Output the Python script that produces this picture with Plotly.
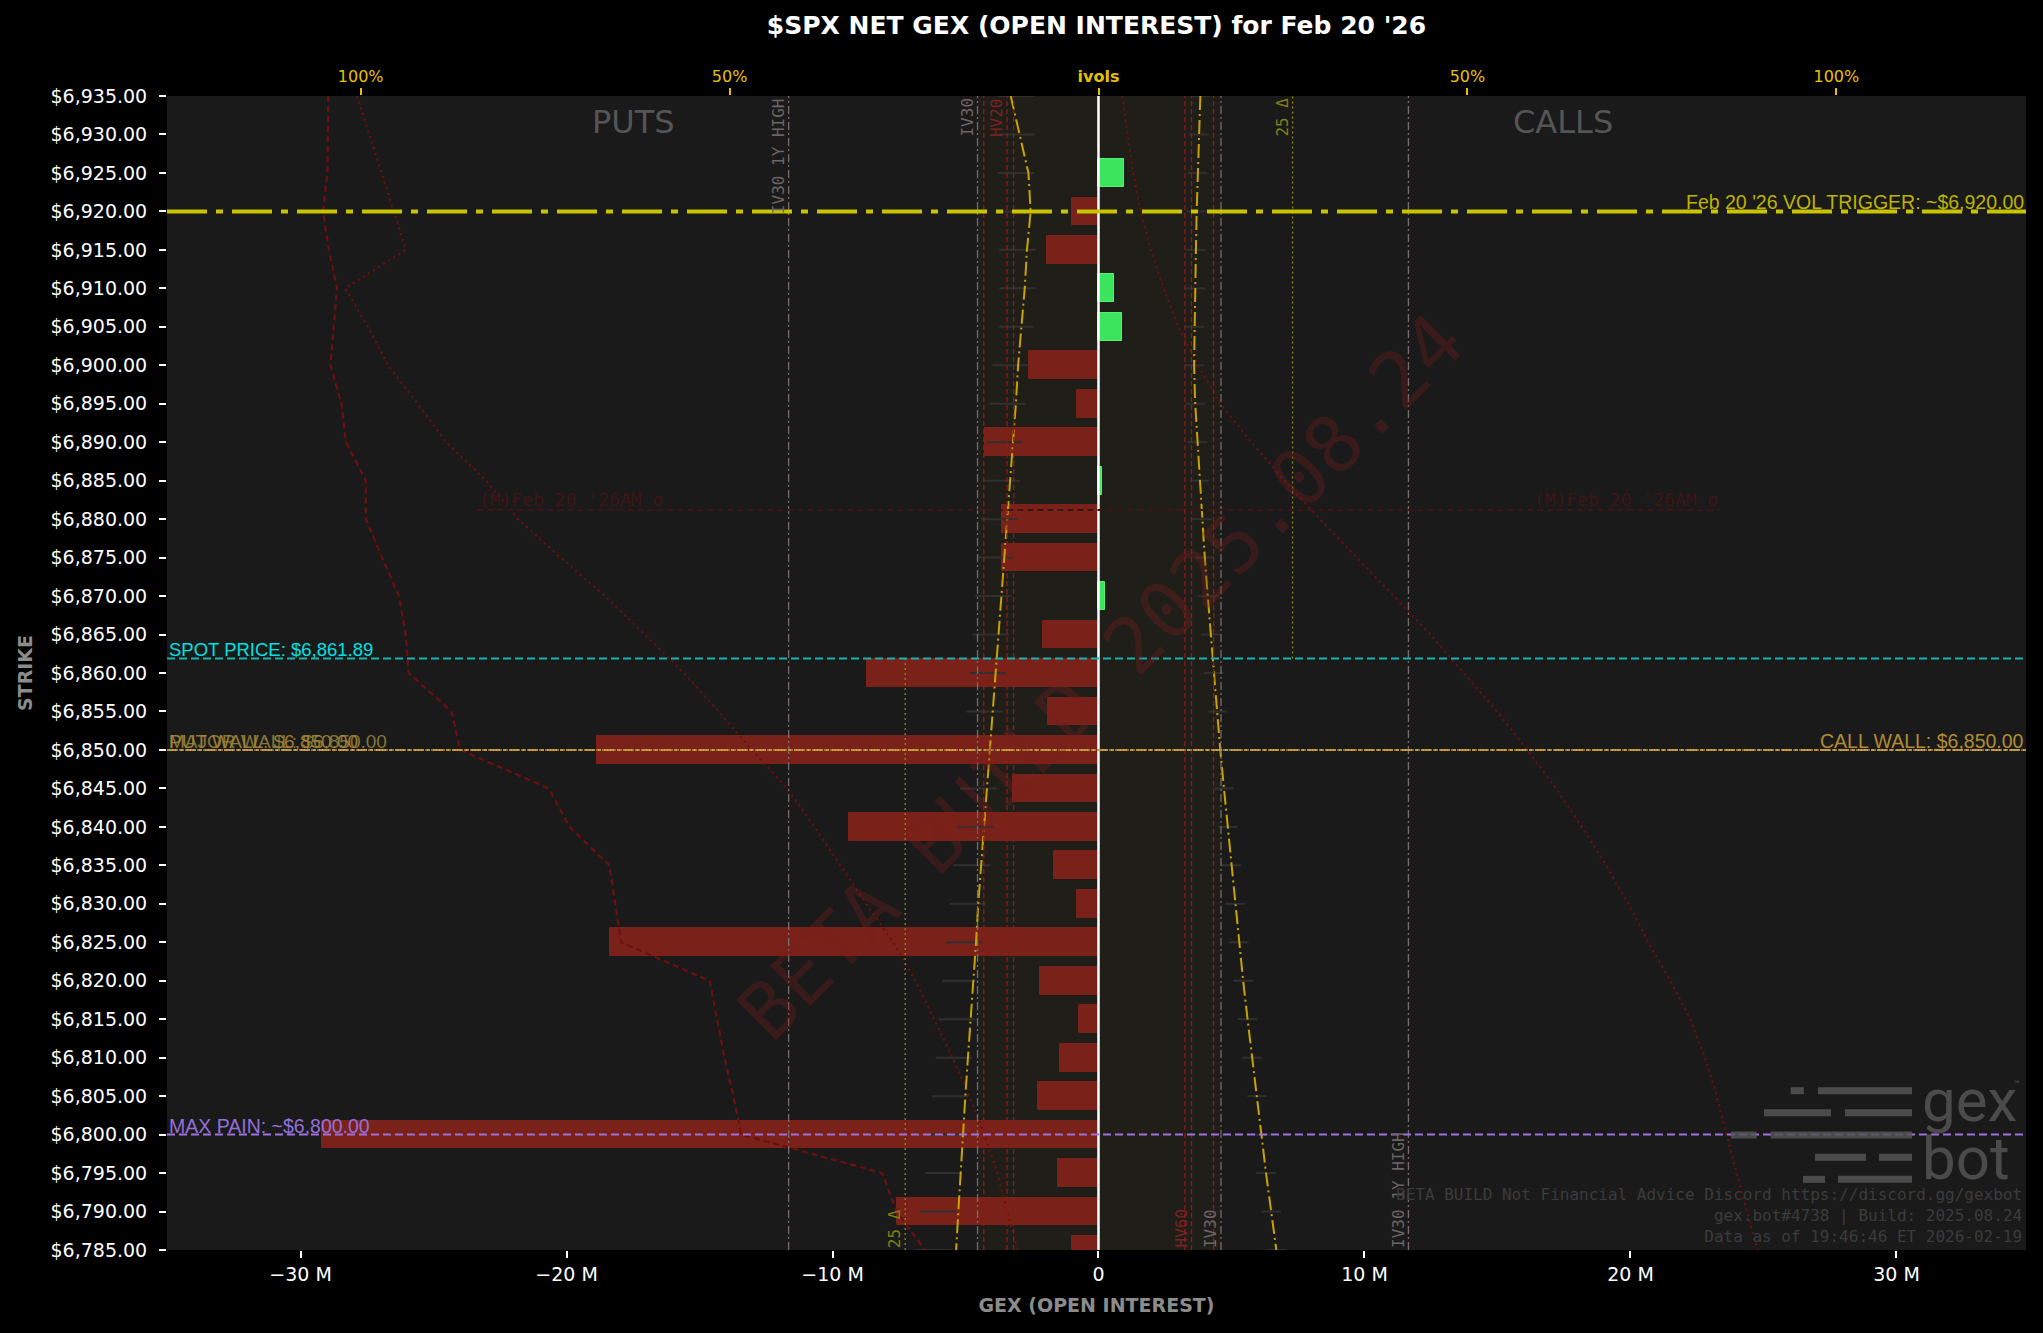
import plotly.graph_objects as go

# strikes on the y axis, top to bottom
strikes = [6935, 6930, 6925, 6920, 6915, 6910, 6905, 6900, 6895, 6890,
           6885, 6880, 6875, 6870, 6865, 6860, 6855, 6850, 6845, 6840,
           6835, 6830, 6825, 6820, 6815, 6810, 6805, 6800, 6795, 6790, 6785]

# net gex per strike, millions
net_gex = [0, 0, 0.97, -1.0, -1.94, 0.58, 0.88, -2.6, -0.82, -4.27,
           0.12, -3.64, -3.64, 0.24, -2.09, -8.7, -1.88, -18.85, -3.22, -9.39,
           -1.67, -0.82, -18.36, -2.2, -0.73, -1.46, -2.28, -29.2, -1.52, -7.57, -1.0]

# ivol smile in %, put side is drawn to the left, call side to the right
put_iv = [11.9, 10.7, 9.5, 9.2, 9.7, 10.0, 10.5, 10.9, 11.2, 11.6,
          12.0, 12.4, 12.8, 13.2, 13.6, 13.95, 14.35, 14.7, 15.1, 15.5,
          15.9, 16.3, 16.6, 17.0, 17.35, 17.7, 18.05, 18.4, 18.7, 19.0, 19.3]
call_iv = [13.8, 13.6, 13.4, 13.3, 13.2, 13.1, 13.0, 12.95, 13.1, 13.4,
           13.7, 14.0, 14.4, 14.8, 15.2, 15.6, 16.1, 16.5, 17.0, 17.5,
           18.0, 18.5, 19.0, 19.6, 20.2, 20.8, 21.5, 22.1, 22.7, 23.4, 24.1]
put_iv_marks = [11.2, 11.1, 11.2, 11.1, 11.0, 11.0, 11.2, 11.9, 12.3, 12.75,
                13.1, 13.5, 13.9, 14.2, 14.6, 15.0, 15.4, 15.8, 16.3, 16.7,
                17.2, 17.7, 18.2, 18.7, 19.2, 19.6, 20.1, 20.5, 21.0, 21.7, 22.3]

# put profile (dashed) and delta curves (dotted), %
put_profile = [104.4, 104.5, 104.5, 105.1, 104.3, 103.2, 103.7, 104.1, 102.6, 102.0,
               99.3, 99.3, 97.1, 94.8, 93.9, 93.5, 87.7, 86.5, 74.5, 71.7,
               66.3, 65.5, 64.7, 52.7, 51.7, 50.7, 49.5, 48.4, 29.3, 27.4, 23.5]
put_delta = [100.5, 98.8, 97.2, 95.5, 93.9, 102.1, 99.0, 96.3, 92.3, 88.4,
             83.0, 78.7, 72.9, 66.9, 61.5, 56.2, 51.5, 47.0, 42.2, 38.5,
             35.0, 31.5, 27.8, 24.8, 22.3, 19.8, 17.5, 15.5, 13.7, 12.3, 11.0]
call_delta = [3.2, 3.9, 4.7, 5.7, 7.1, 8.8, 10.8, 13.5, 16.5, 20.7,
              25.2, 30.0, 35.0, 40.0, 45.0, 49.5, 54.0, 58.1, 62.0, 65.5,
              68.8, 71.8, 74.5, 77.5, 80.2, 82.2, 83.8, 85.1, 86.5, 87.9, 89.3]

# levels
vol_trigger = 6920
spot = 6861.89
call_wall = 6850
put_wall = 6850
major_wall = 6850
max_pain = 6800
sigma_level = 6881.2
sigma_half_width = 23.35  # M

# vertical vol references, %
iv30 = [-16.4, 16.6]
iv30_1y_high = [-42.0, 42.0]
hv_left = [-15.55, -12.4, -11.5]
hv_right = [11.7, 12.6, 15.6]
delta25 = [-26.2, 26.3]

gex_ticks = [-30, -20, -10, 0, 10, 20, 30]
ivol_ticks = [-100, -50, 0, 50, 100]
ivol_labels = ['100%', '50%', '<b>ivols</b>', '50%', '100%']

# plot area in pixels (for paper placement of the decorations)
L, R, T, B = 167, 2026, 96, 1250


def px(x):
    return (x - L) / (R - L)


def py(y):
    return (B - y) / (B - T)


RED = '#6e1010'
GOLD = '#c9a400'

fig = go.Figure()

fig.add_trace(go.Bar(
    x=net_gex, y=strikes, orientation='h', width=3.6,
    marker=dict(color=['#3be55e' if v > 0 else '#7a2219' for v in net_gex],
                line=dict(color=['#55f075' if v > 0 else '#7a2219' for v in net_gex], width=1)),
    xaxis='x', yaxis='y', hoverinfo='skip'))

# ivol side traces
fig.add_trace(go.Scatter(x=[-v for v in put_iv_marks], y=strikes, mode='markers', xaxis='x2',
                         marker=dict(symbol='line-ew', size=26, line=dict(color='#303030', width=2))))
fig.add_trace(go.Scatter(x=call_iv, y=strikes, mode='markers', xaxis='x2',
                         marker=dict(symbol='line-ew', size=14, line=dict(color='#303030', width=2))))
fig.add_trace(go.Scatter(x=[-v for v in put_profile], y=strikes, mode='lines', xaxis='x2',
                         line=dict(color=RED, width=2.2, dash='6px,4px')))
fig.add_trace(go.Scatter(x=[-v for v in put_delta], y=strikes, mode='lines', xaxis='x2',
                         line=dict(color=RED, width=2.2, dash='2px,4px')))
fig.add_trace(go.Scatter(x=call_delta, y=strikes, mode='lines', xaxis='x2',
                         line=dict(color=RED, width=2.2, dash='2px,4px')))
fig.add_trace(go.Scatter(x=[-v for v in put_iv], y=strikes, mode='lines', xaxis='x2',
                         line=dict(color=GOLD, width=2, dash='14px,4px,2px,4px')))
fig.add_trace(go.Scatter(x=call_iv, y=strikes, mode='lines', xaxis='x2',
                         line=dict(color=GOLD, width=2, dash='14px,4px,2px,4px')))

shapes = []
annos = []

# iv30 band
shapes.append(dict(type='rect', xref='x2', yref='paper', x0=iv30[0], x1=iv30[1], y0=0, y1=1,
                   fillcolor='rgba(130,110,0,0.06)', line=dict(width=0), layer='below'))

# vertical references
for v in iv30 + iv30_1y_high:
    shapes.append(dict(type='line', xref='x2', yref='paper', x0=v, x1=v, y0=0, y1=1,
                       line=dict(color='#7a6b6b', width=1.3, dash='8px,3px,2px,3px')))
for v in hv_left + hv_right:
    shapes.append(dict(type='line', xref='x2', yref='paper', x0=v, x1=v, y0=0, y1=1,
                       line=dict(color='#8b1c1c', width=1.3, dash='5px,3px')))
shapes.append(dict(type='line', xref='x2', yref='y', x0=delta25[1], x1=delta25[1], y0=spot, y1=6935,
                   line=dict(color='#8a8a14', width=1.3, dash='2px,3px')))
shapes.append(dict(type='line', xref='x2', yref='y', x0=delta25[0], x1=delta25[0], y0=6785, y1=spot,
                   line=dict(color='#8a8a14', width=1.3, dash='2px,3px')))

# zero line
shapes.append(dict(type='line', xref='x', yref='paper', x0=0, x1=0, y0=0, y1=1,
                   line=dict(color='#ffffff', width=2.5)))

# horizontal levels
shapes.append(dict(type='line', xref='x', yref='y', x0=-sigma_half_width, x1=sigma_half_width,
                   y0=sigma_level, y1=sigma_level, line=dict(color='#3e1414', width=2, dash='6px,4px')))
shapes.append(dict(type='line', xref='paper', yref='y', x0=0, x1=1, y0=vol_trigger, y1=vol_trigger,
                   line=dict(color='#c8c400', width=4, dash='40px,9px,7px,9px')))
shapes.append(dict(type='line', xref='paper', yref='y', x0=0, x1=1, y0=spot, y1=spot,
                   line=dict(color='#17b2b2', width=2, dash='8px,4px')))
shapes.append(dict(type='line', xref='paper', yref='y', x0=0, x1=1, y0=put_wall, y1=put_wall,
                   line=dict(color='#d9a441', width=2, dash='10px,3px,3px,3px')))
shapes.append(dict(type='line', xref='paper', yref='y', x0=0, x1=1, y0=call_wall, y1=call_wall,
                   line=dict(color='#b08d35', width=1.5, dash='2px,1px')))
shapes.append(dict(type='line', xref='paper', yref='y', x0=0, x1=1, y0=max_pain, y1=max_pain,
                   line=dict(color='#a070e0', width=2, dash='8px,4px')))

# level labels
LAB = 'Liberation Sans'
annos.append(dict(x=1, xref='paper', y=vol_trigger, yref='y', xanchor='right', yanchor='bottom',
                  text="Feb 20 '26 VOL TRIGGER: ~$%s" % f'{vol_trigger:,.2f}', showarrow=False,
                  font=dict(family=LAB, size=19.5, color='#bdb300'), yshift=-4))
annos.append(dict(x=0, xref='paper', y=spot, yref='y', xanchor='left', yanchor='bottom',
                  text='SPOT PRICE: $%s' % f'{spot:,.2f}', showarrow=False,
                  font=dict(family=LAB, size=18.5, color='#00e0e0'), yshift=-4))
annos.append(dict(x=0, xref='paper', y=put_wall, yref='y', xanchor='left', yanchor='bottom',
                  text='PUT WALL: $%s' % f'{put_wall:,.2f}', showarrow=False,
                  font=dict(family=LAB, size=19, color='#b08d35'), yshift=-4, opacity=0.85))
annos.append(dict(x=0, xref='paper', y=major_wall, yref='y', xanchor='left', yanchor='bottom',
                  text='MAJOR WALL: $%s' % f'{major_wall:,.2f}', showarrow=False,
                  font=dict(family=LAB, size=19, color='#a08a40'), yshift=-4, opacity=0.8))
annos.append(dict(x=1, xref='paper', y=call_wall, yref='y', xanchor='right', yanchor='bottom',
                  text='CALL WALL: $%s' % f'{call_wall:,.2f}', showarrow=False,
                  font=dict(family=LAB, size=19.5, color='#b08d35'), yshift=-4))
annos.append(dict(x=0, xref='paper', y=max_pain, yref='y', xanchor='left', yanchor='bottom',
                  text='MAX PAIN: ~$%s' % f'{max_pain:,.2f}', showarrow=False,
                  font=dict(family=LAB, size=19.5, color='#9370db'), yshift=-4))
mono = 'DejaVu Sans Mono'
annos.append(dict(x=-sigma_half_width, xref='x', y=sigma_level, yref='y', xanchor='left', yanchor='bottom',
                  text="(M)Feb 20 '26AM σ", showarrow=False, font=dict(color='#3e1616', family=mono, size=18),
                  yshift=-2))
annos.append(dict(x=sigma_half_width, xref='x', y=sigma_level, yref='y', xanchor='right', yanchor='bottom',
                  text="(M)Feb 20 '26AM σ", showarrow=False, font=dict(color='#3e1616', family=mono, size=18),
                  yshift=-2))


# rotated vertical labels
def vlabel(x, text, color, top):
    annos.append(dict(x=x, xref='x2', y=1 if top else 0, yref='paper', xanchor='right',
                      yanchor='top' if top else 'bottom', text=text, textangle=-90, showarrow=False,
                      font=dict(family=mono, size=16, color=color), xshift=1))


vlabel(iv30_1y_high[0], 'IV30 1Y HIGH', '#6e6464', True)
vlabel(iv30[0], 'IV30', '#6e6464', True)
vlabel(hv_left[1], 'HV20', '#7a2222', True)
vlabel(delta25[1], '25 Δ', '#7f7f18', True)
vlabel(hv_right[1], 'HV60', '#7a2222', False)
vlabel(iv30[1], 'IV30', '#6e6464', False)
vlabel(iv30_1y_high[1], 'IV30 1Y HIGH', '#6e6464', False)
vlabel(delta25[0], '25 Δ', '#7f7f18', False)

# side labels
annos.append(dict(x=px(633), y=py(122), xref='paper', yref='paper', xanchor='center', yanchor='middle',
                  text='PUTS', showarrow=False, font=dict(family='DejaVu Sans', size=32, color='#555555')))
annos.append(dict(x=px(1563), y=py(122), xref='paper', yref='paper', xanchor='center', yanchor='middle',
                  text='CALLS', showarrow=False, font=dict(family='DejaVu Sans', size=32, color='#555555')))

# watermark
annos.append(dict(x=px(1101), y=py(677), xref='paper', yref='paper', xanchor='center', yanchor='middle',
                  text='BETA BUILD 2025.08.24', textangle=-45, showarrow=False,
                  font=dict(family=mono, size=78, color='rgba(120,30,30,0.33)')))

# gex bot logo
logo_rows = [(1090.7, [(1790.6, 1803.8), (1818, 1912)]),
             (1112.7, [(1764, 1831), (1845, 1912)]),
             (1135.0, [(1731, 1756.5), (1770.7, 1912)]),
             (1157.3, [(1815, 1866), (1879, 1912)]),
             (1179.3, [(1803, 1825), (1838, 1912)])]
for yy, segs in logo_rows:
    for a, b in segs:
        shapes.append(dict(type='line', xref='paper', yref='paper', x0=px(a), x1=px(b), y0=py(yy), y1=py(yy),
                           line=dict(color='rgba(85,85,85,0.85)', width=7)))
annos.append(dict(x=px(1920), y=py(1100), xref='paper', yref='paper', xanchor='left', yanchor='middle',
                  text='gex', showarrow=False, font=dict(family='Roboto', size=60, color='rgba(85,85,85,0.85)')))
annos.append(dict(x=px(1920), y=py(1158), xref='paper', yref='paper', xanchor='left', yanchor='middle',
                  text='bot', showarrow=False, font=dict(family='Roboto', size=60, color='rgba(85,85,85,0.85)')))
annos.append(dict(x=px(2012), y=py(1084), xref='paper', yref='paper', xanchor='left', yanchor='middle',
                  text='™', showarrow=False, font=dict(family='Roboto', size=9, color='#555555')))

# footer
annos.append(dict(x=px(2024), y=py(1248), xref='paper', yref='paper', xanchor='right', yanchor='bottom',
                  align='right', showarrow=False,
                  text='BETA BUILD Not Financial Advice Discord https://discord.gg/gexbot<br>'
                       'gex.bot#4738 | Build: 2025.08.24<br>Data as of 19:46:46 ET 2026-02-19',
                  font=dict(family=mono, size=16, color='#3c3c3c')))

fig.update_layout(
    width=2043, height=1333,
    paper_bgcolor='#000000', plot_bgcolor='#1a1a1a',
    margin=dict(l=L, r=2043 - R, t=T, b=1333 - B, autoexpand=False),
    showlegend=False, hovermode=False, bargap=0,
    font=dict(family='DejaVu Sans', color='white'),
    title=dict(text="<b>$SPX NET GEX (OPEN INTEREST) for Feb 20 '26</b>", x=0.5, xref='paper', xanchor='center',
               y=1 - 25 / 1333, yanchor='middle', font=dict(family='DejaVu Sans', size=25, color='white')),
    xaxis=dict(range=[-35.02, 34.87], tickvals=gex_ticks,
               ticktext=[('%d M' % v).replace('-', '\u2212') if v else '0' for v in gex_ticks],
               showgrid=False, zeroline=False, ticks='outside', ticklen=7, tickwidth=1.5, tickcolor='white',
               tickfont=dict(size=19, color='white'),
               title=dict(text='<b>GEX (OPEN INTEREST)</b>', font=dict(size=19, color='#8c8c8c'), standoff=14)),
    xaxis2=dict(range=[-126.25, 125.7], overlaying='x', side='top', tickvals=ivol_ticks, ticktext=ivol_labels,
                showgrid=False, zeroline=False, ticks='outside', ticklen=7, tickwidth=1.5, tickcolor='#e8c000',
                tickfont=dict(size=16, color='#e8c000')),
    yaxis=dict(range=[6785, 6935], tickvals=strikes, ticktext=['$%s' % f'{s:,.2f}' for s in strikes],
               showgrid=False, zeroline=False, ticks='outside', ticklen=7, tickwidth=1.5, tickcolor='white',
               tickfont=dict(size=19, color='white'), ticklabelstandoff=8,
               title=dict(text='<b>STRIKE</b>', font=dict(size=19, color='#8c8c8c'), standoff=12)),
    shapes=shapes, annotations=annos,
)

fig.write_html('out.html', config={'displayModeBar': False},
               post_script="document.body.style.margin='0px';document.body.style.overflow='hidden';")
